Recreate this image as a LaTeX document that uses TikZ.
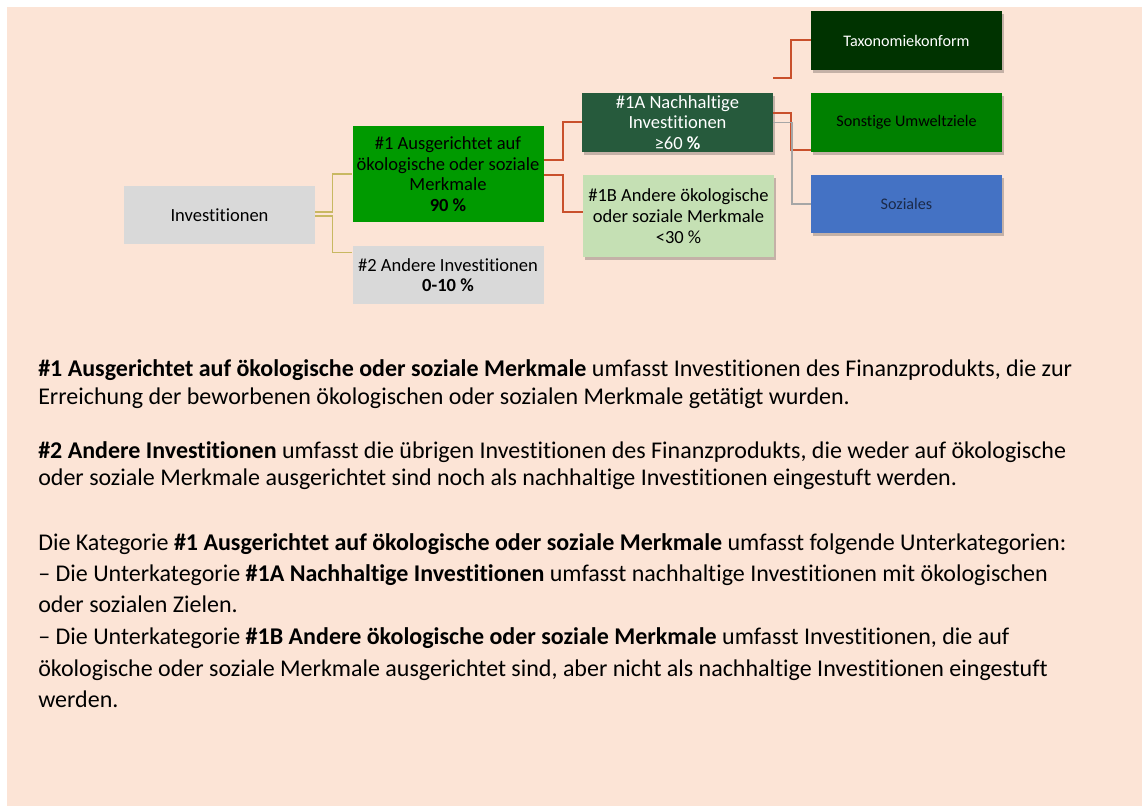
\documentclass[tikz,border=0pt]{standalone}
\usepackage{fontspec}
\setmainfont[Ligatures={NoCommon,NoRare}]{Carlito}
\usetikzlibrary{calc,shadows}
\definecolor{peach}{HTML}{FCE4D6}
\definecolor{boxgrey}{HTML}{D9D9D9}
\definecolor{greenone}{HTML}{009A00}
\definecolor{greenA}{HTML}{265A3C}
\definecolor{greenB}{HTML}{C5E0B4}
\definecolor{greentax}{HTML}{003300}
\definecolor{greenson}{HTML}{008000}
\definecolor{bluesoz}{HTML}{4472C4}
\definecolor{navytext}{HTML}{1B2A4A}
\definecolor{redline}{HTML}{C9502C}
\definecolor{goldline}{HTML}{C8B862}
\definecolor{greyline}{HTML}{A6A6A6}
\begin{document}
\begin{tikzpicture}[x=0.75pt,y=-0.75pt,
  basebox/.style={draw=none,inner sep=0pt,align=center,font=\fontsize{13.9}{15.5}\selectfont},
  midbox/.style={basebox,minimum width=143.25pt},
  smallbox/.style={basebox,minimum width=143.25pt,minimum height=44.25pt,font=\fontsize{12.1}{14}\selectfont},
  shadowed/.style={drop shadow={shadow xshift=1.5pt,shadow yshift=-2.2pt,opacity=0.22,fill=black}},
  conn/.style={line width=1.5pt,redline},
  goldconn/.style={line width=1.1pt,goldline},
  greyconn/.style={line width=1.3pt,greyline},
  bodyline/.style={anchor=base west,inner sep=0pt,font=\fontsize{18}{21}\selectfont}
]
\useasboundingbox (0,0) rectangle (1146,809);
\fill[white] (0,0) rectangle (1146,809);
\fill[peach] (7,7) rectangle (1142,806);

% boxes
\node[basebox,fill=boxgrey,minimum width=143.25pt,minimum height=43.5pt] (inv) at (219.5,215) {Investitionen};
\node[midbox,fill=greenone,minimum height=72pt] (one) at (448,174) {\#1 Ausgerichtet auf\\ökologische oder soziale\\Merkmale\\\textbf{90 \%}};
\node[midbox,fill=boxgrey,minimum height=43.5pt] (two) at (448,275) {\#2 Andere Investitionen\\\textbf{0-10 \%}};
\node[midbox,shadowed,fill=greenA,text=white,minimum height=44.25pt] (oneA) at (677.5,122.5) {\#1A Nachhaltige\\Investitionen\\≥60 \textbf{\%}};
\node[midbox,shadowed,fill=greenB,minimum height=61.5pt] (oneB) at (678.5,216) {\#1B Andere ökologische\\oder soziale Merkmale\\<30 \%};
\node[smallbox,shadowed,fill=greentax,text=white] (tax) at (906.5,40.5) {Taxonomiekonform};
\node[smallbox,shadowed,fill=greenson] (son) at (906.5,122.5) {Sonstige Umweltziele};
\node[smallbox,shadowed,fill=bluesoz,text=navytext,minimum height=43.5pt] (soz) at (906.5,204) {Soziales};

% connectors
\draw[goldconn] ($(inv.east)+(0,-3)$) -- ++(17,0) |- (one.west);
\draw[goldconn] ($(inv.east)+(0,1)$) -- ++(17,0) |- ($(two.north west)+(0,7)$);
\draw[conn] ($(one.east)+(0,-14)$) -- ++(19,0) |- (oneA.west);
\draw[conn] ($(one.east)+(0,1)$) -- ++(19,0) |- ($(oneB.west)+(0,-4)$);
\draw[conn] ($(oneA.north east)+(0,-15)$) -- ++(18,0) |- (tax.west);
\draw[conn] ($(oneA.east)+(0,-9.5)$) -- ++(18,0) |- ($(son.west)+(0,27.5)$);
\draw[greyconn] (oneA.east) -- ++(19,0) |- (soz.west);

% body text
\node[bodyline] (p1a) at (38,377) {\textbf{\#1 Ausgerichtet auf ökologische oder soziale Merkmale} umfasst Investitionen des Finanzprodukts, die zur};
\node[bodyline] (p1b) at (38,404) {Erreichung der beworbenen ökologischen oder sozialen Merkmale getätigt wurden.};
\node[bodyline] (p2a) at (38,458) {\textbf{\#2 Andere Investitionen} umfasst die übrigen Investitionen des Finanzprodukts, die weder auf ökologische};
\node[bodyline] (p2b) at (38,485) {oder soziale Merkmale ausgerichtet sind noch als nachhaltige Investitionen eingestuft werden.};
\node[bodyline] (p3a) at (38,550) {Die Kategorie \textbf{\#1 Ausgerichtet auf ökologische oder soziale Merkmale} umfasst folgende Unterkategorien:};
\node[bodyline] (p3b) at (38,581) {– Die Unterkategorie \textbf{\#1A Nachhaltige Investitionen} umfasst nachhaltige Investitionen mit ökologischen};
\node[bodyline] (p3c) at (38,612) {oder sozialen Zielen.};
\node[bodyline] (p3d) at (38,644) {– Die Unterkategorie \textbf{\#1B Andere ökologische oder soziale Merkmale} umfasst Investitionen, die auf};
\node[bodyline] (p3e) at (38,676) {ökologische oder soziale Merkmale ausgerichtet sind, aber nicht als nachhaltige Investitionen eingestuft};
\node[bodyline] (p3f) at (38,707) {werden.};
\end{tikzpicture}
\end{document}
